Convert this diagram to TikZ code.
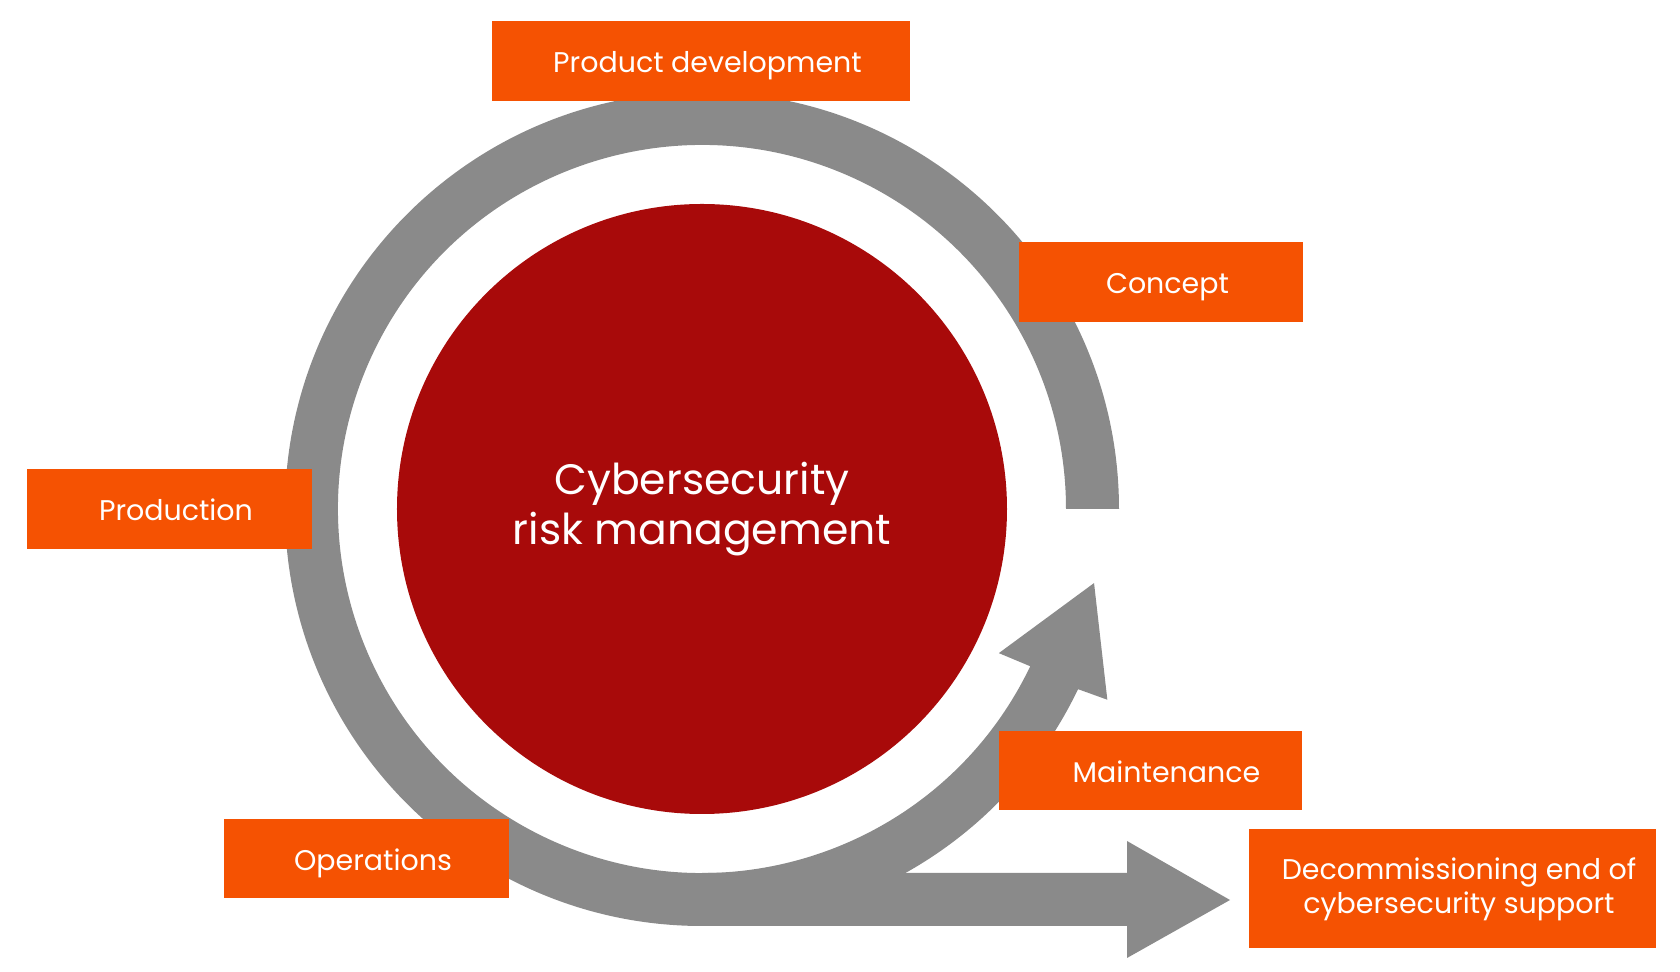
\documentclass[tikz,border=0pt]{standalone}
\usepackage{fontspec}
\setmainfont{Poppins}
\usepackage{tikz}

\definecolor{phaseorange}{RGB}{245,82,2}
\definecolor{corered}{RGB}{168,10,10}
\definecolor{loopgray}{RGB}{138,138,138}

\begin{document}
\begin{tikzpicture}
    % --- Style Definitions ---
    \tikzset{
        % The grey life-cycle loop and the exit arrow
        loop style/.style={
            fill=loopgray
        },
        % Orange phase boxes
        phase box/.style={
            fill=phaseorange,
            text=white,
            inner sep=0pt,
            minimum height=1.6cm,
            text height=13.5pt,
            text depth=0pt,
            font=\fontsize{16.2}{18.8}\selectfont,
            execute at begin node={\hspace*{0.26cm}}
        },
        % The red core circle
        core style/.style={
            circle,
            fill=corered,
            text=white,
            minimum size=12.2cm,
            align=center,
            font=\fontsize{24.2}{28.45}\selectfont
        }
    }

    % fix the page to the reference proportions
    \useasboundingbox (-14.04,-9.26) rectangle (19.56,10.18);

    % --- 1. The Loop (ring with arrow head) ---
    \fill[loop style] (0:7.28) -- (0:8.34)
        arc[start angle=0, end angle=334.4, radius=8.34]
        -- (-25.2:8.96) -- (-10.7:7.98) -- (-25.9:6.6) -- (334.4:7.28)
        arc[start angle=334.4, end angle=0, radius=7.28] -- cycle;

    % --- 2. The Exit Arrow (leaves the loop at the bottom) ---
    \fill[loop style] (0,-7.28) -- (8.5,-7.28) -- (8.5,-6.64) -- (10.56,-7.82)
        -- (8.5,-8.98) -- (8.5,-8.34) -- (0,-8.34) -- cycle;

    % --- 3. The Core ---
    \node[core style] (core) at (0,0) {Cybersecurity\\risk management};

    % --- 4. Phase Boxes ---
    \node[phase box, minimum width=8.36cm] (devel) at (-0.02, 8.96) {Product development};
    \node[phase box, minimum width=5.68cm] (concept) at (9.18, 4.54) {Concept};
    \node[phase box, minimum width=5.7cm] (prod) at (-10.65, 0) {Production};
    \node[phase box, minimum width=6.06cm, minimum height=1.58cm] (maint) at (8.97, -5.23) {\hspace*{0.38cm}Maintenance};
    \node[phase box, minimum width=5.7cm, minimum height=1.58cm] (ops) at (-6.71, -6.99) {Operations};

    % Annotation: end of support, with two lines
    \node[phase box, minimum width=8.14cm, minimum height=2.38cm, text height=32.3pt, text depth=4.4pt, align=center] (decom) at (15.01, -7.59) {Decommissioning end of\\cybersecurity support};

\end{tikzpicture}
\end{document}
